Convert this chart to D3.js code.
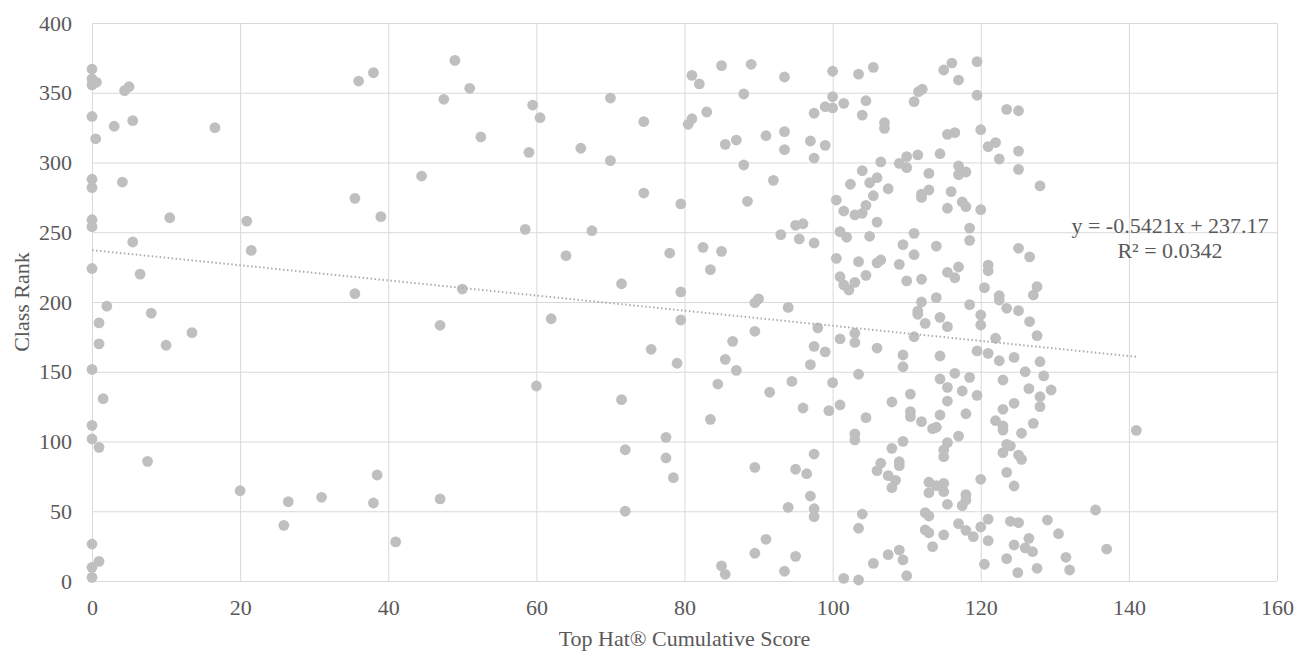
<!DOCTYPE html>
<html>
<head>
<meta charset="utf-8">
<script src="https://cdn.jsdelivr.net/npm/d3@7"></script>
<style>
  body { margin: 0; background: #fff; }
  text { font-family: "Liberation Serif", "Times New Roman", serif; fill: #595959; }
</style>
</head>
<body>
<div id="chart"></div>
<script>
// Axis ticks
const xTicks = [0, 20, 40, 60, 80, 100, 120, 140, 160];
const yTicks = [0, 50, 100, 150, 200, 250, 300, 350, 400];

// Linear trendline shown on the chart
const trendSlope = -0.5421;
const trendIntercept = 237.17;
const trendLabels = ["y = -0.5421x + 237.17", "R² = 0.0342"];

const xTitle = "Top Hat® Cumulative Score";
const yTitle = "Class Rank";

// [Top Hat cumulative score, class rank]
const points = [
  [0,367],[0,360],[0,355.6],[0.6,357.5],[0,333],[0.5,317],[0,288],[0,282],[0,259],[0,254],[0,224],
  [4.4,351.5],[5.0,354.3],[3.0,326],[5.5,330],[16.6,325],[4.1,286],[10.5,260.4],[20.9,258],[21.5,237],
  [5.5,243],[6.5,220],[2.0,197],[8.0,192],[0.95,185],[13.5,178],
  [0.95,170],[10,169],[0,151.7],[1.5,130.7],[0,111.6],[0,101.8],[0.95,95.8],[7.5,85.8],[20,64.7],
  [26.5,56.9],[25.9,39.9],[0,26.5],[0,9.8],[0.95,14.1],[0,2.6],
  [36,358.4],[38,364.4],[49,373.2],[51,353.2],[47.5,345.3],[59.5,341.2],[60.5,332.1],[52.5,318.3],
  [59,307.3],[66,310.2],[44.5,290.3],[35.5,274.3],[39,261.2],[58.5,252.1],[67.5,251.1],[64,233.2],
  [35.5,206],[50,209.3],[47,183.3],[62,188],
  [60,139.8],[38.5,76],[31,60],[38,55.9],[47,58.8],[41,28],
  [70,346.2],[74.5,329.3],[70,301.3],[74.5,278.1],[79.5,270.3],[71.5,213.1],[78,235.1],[82.5,239.2],
  [85,236.3],[83.5,223.2],[79.5,207.2],[79.5,187.1],[81,362.5],[82,356.3],[85,369.4],[89,370.4],
  [93.5,361.3],[100,365.4],[88,349.1],[100,347.2],[99,340],[100,339.1],[101.5,342.4],[97.5,335.3],
  [83,336.2],[81,331.4],[80.5,327.4],[85.5,313],[87,316.1],[91,319.2],[93.5,322.1],[93.5,309.2],
  [97,315.4],[99,312.3],[97.5,303.2],[88,298.2],[92,287.2],[88.5,272.2],[100.5,273.1],[101.5,265.2],
  [102.4,284.4],[95,255],[96,256.1],[93,248.3],[95.5,245.2],[97.5,242.3],[101,250.4],[101.9,246.4],
  [100.5,231.3],[101,218.1],[101.5,212.2],[102.2,208.6],[89.5,199.5],[90,202.2],[94,196.1],[98,181.5],
  [89.5,179],[101,173.5],[75.5,166.1],[86.5,171.8],[97.5,168.2],[99,164.2],[85.5,158.9],[79,156.1],
  [87,151],[97,155.1],[84.5,141.2],[94.5,143.1],[100,142.2],[91.5,135.3],[71.5,130],[96,124],
  [99.5,122.1],[101,126.2],[83.5,115.9],[77.5,103],[72,94.1],[77.5,88.2],[78.5,74.1],[97.5,91],
  [89.5,81.5],[95,80.1],[96.5,76.9],[97,60.9],[94,52.8],[97.5,51.8],[97.5,46.1],[72,50],[91,29.9],
  [89.5,19.9],[95,17.7],[85,10.8],[85.5,4.8],[93.5,7],[101.5,1.9],
  [103.5,363.4],[105.5,368.2],[115,366.3],[116.1,371.3],[117,359.1],[119.5,372.3],[119.5,348.2],
  [104.5,344.3],[104,334],[111,343.6],[111.6,350.8],[112.1,352.5],[107,328.5],[107,324.5],[123.5,338.1],
  [125.1,337.1],[115.5,320.2],[116.5,321.4],[120,323.5],[121,311.4],[122,314.3],[122.5,302.5],
  [114.5,306.3],[111.5,305.4],[110,304.2],[109,299.4],[110,296.3],[106.5,300.4],[104,294.1],[105,285.5],
  [106,289.1],[105.5,276.2],[107.5,281.2],[113,292.2],[117,297.5],[117,291.3],[118,293.2],[113,280.3],
  [112,277.4],[112,275],[116,279.1],[115.5,267.2],[117.5,271.7],[118,268.3],[120,266.2],[103,262.4],
  [104,263.6],[104.5,269.3],[106,257.3],[105,247.1],[111,249.2],[109.5,241.1],[111,233.9],[114,240.1],
  [118.5,253],[118.5,244.2],[103.5,228.9],[106,228],[106.5,230.1],[109,227],[110,215.1],[112,216.3],
  [104.5,219.1],[103,214.1],[115.5,221.3],[116.5,217.4],[117,225.1],[120.5,210.3],[121,226.5],
  [121,222.4],[122.5,204.5],[122.5,201.4],[123.5,195.5],[118.5,198.1],[120,190.7],[112,200],[114,203.1],
  [111.5,193.5],[111.5,191.2],[112.5,184.7],[114.5,189],[115.5,182.3],[120,183.5],
  [122,174],[103,177.6],[103,171],[106,167],[111,175.1],[109.5,162],[109.5,153.6],[114.5,161.3],
  [119.5,164.9],[121,163.2],[122.5,157.9],[103.5,148.2],[116.5,148.9],[118.5,146],[114.5,144.8],
  [115.5,138.8],[117.5,136.2],[119.5,133.1],[115.5,129],[118,119.9],[114.5,119],[108,128.3],[110.5,134],
  [104.5,117.1],[110.5,121.4],[110.5,117.8],[112,114.2],[113.5,109.2],[114,110.2],[117,103.9],
  [103,105.4],[103,101.1],[109.5,100.1],[108,95.1],[106.5,84.4],[106,79.1],[109,85.5],[109,82.7],
  [107.5,75.5],[108.5,72.2],[108,66.9],[115.5,99.2],[115,93.9],[115,89.1],[113,70.8],[114,68.3],
  [115,70],[113,63.3],[115,64],[115.5,55],[118,61.9],[118,58.1],[117.5,54],[120,72.9],[104,48],
  [103.5,37.8],[112.5,49],[113,46.6],[112.5,36.6],[113,34.6],[115,33],[117,41.1],[118,36.3],[119,31.8],
  [120,38.7],[121,44.4],[121,28.9],[113.5,24.6],[120.5,12],[124,42.8],[125.1,41.8],[123.5,16],
  [105.5,12.6],[107.5,18.9],[109,22.2],[109.5,15.1],[110,3.8],[103.5,0.7],[122,114.9],
  [125.1,308.2],[125.1,295.1],[128,283.2],[125.1,238.5],[126.6,232.3],[125.1,193.8],[126.6,186],
  [127.6,211],[127.1,205],
  [127.6,175.9],[124.5,160.3],[128,157.2],[123,144.1],[126,150],[128.5,147],[126.5,137.9],[129.5,136.9],
  [128,132.1],[128,125],[124.5,127.4],[123,123.1],[127.1,113],[123,111.1],[123,108.2],[125.5,105.9],
  [141,108],[123.5,98],[124,96.8],[123,92],[125.1,90.3],[125.5,87.2],[123.5,77.9],[124.5,68.1],
  [135.5,50.9],[129,43.7],[130.5,33.9],[126.5,30.6],[124.5,25.8],[126,23.7],[127,21],[137,22.9],
  [131.5,17],[125,6],[127.6,9.1],[132,7.9]
];

const W = 1296, H = 651;
const margin = { top: 23, right: 19, bottom: 70, left: 92 },
    width = W - margin.left - margin.right,
    height = H - margin.top - margin.bottom;

const svg = d3.select("#chart")
    .append("svg")
    .attr("width", W)
    .attr("height", H);

const g = svg.append("g")
    .attr("transform", `translate(${margin.left},${margin.top})`);

const x = d3.scaleLinear().domain([0, 160]).range([0, width]);
const y = d3.scaleLinear().domain([0, 400]).range([height, 0]);

// Gridlines + tick labels
const yAxis = g.append("g")
    .call(d3.axisLeft(y).tickValues(yTicks).tickSize(-width).tickPadding(20));
const xAxis = g.append("g")
    .attr("transform", `translate(0,${height})`)
    .call(d3.axisBottom(x).tickValues(xTicks).tickSize(-height).tickPadding(18));

[xAxis, yAxis].forEach(a => {
    a.select(".domain").remove();
    a.selectAll(".tick line").attr("stroke", "#D9D9D9").attr("stroke-width", 1);
    a.selectAll(".tick text")
        .attr("fill", "#595959")
        .style("font-family", '"Liberation Serif", "Times New Roman", serif')
        .style("font-size", "22px");
});

// Dots
g.append("g")
    .selectAll("circle")
    .data(points)
    .enter()
    .append("circle")
    .attr("cx", d => x(d[0]))
    .attr("cy", d => y(d[1]))
    .attr("r", 5.4)
    .style("fill", "#BFBFBF");

// Trendline over the data's x range
const xExt = d3.extent(points, d => d[0]);
g.append("line")
    .attr("x1", x(xExt[0]))
    .attr("y1", y(trendSlope * xExt[0] + trendIntercept))
    .attr("x2", x(xExt[1]))
    .attr("y2", y(trendSlope * xExt[1] + trendIntercept))
    .attr("stroke", "#ADADAD")
    .attr("stroke-width", 2)
    .attr("stroke-dasharray", "1.5,2.5");

// Equation label
const lbl = svg.append("text")
    .attr("text-anchor", "middle")
    .style("font-size", "22px");
trendLabels.forEach((t, i) => {
    lbl.append("tspan")
        .attr("x", 1170)
        .attr("y", 233 + i * 25)
        .text(t);
});

// Axis titles
svg.append("text")
    .attr("text-anchor", "middle")
    .attr("x", margin.left + width / 2)
    .attr("y", 646)
    .style("font-size", "22px")
    .text(xTitle);

svg.append("text")
    .attr("text-anchor", "middle")
    .attr("transform", `translate(29,${margin.top + height / 2}) rotate(-90)`)
    .style("font-size", "22px")
    .text(yTitle);
</script>
</body>
</html>
